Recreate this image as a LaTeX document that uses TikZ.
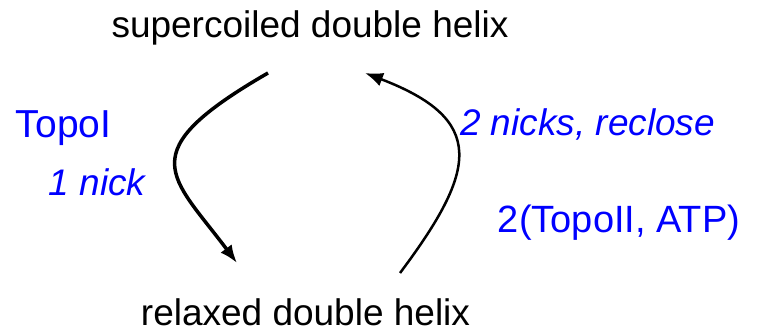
\documentclass[tikz,border=0pt]{standalone}
\usepackage{fontspec}
\setmainfont{Liberation Sans}
\usetikzlibrary{arrows.meta}
\definecolor{lblblue}{RGB}{0,0,255}
\tikzset{
  lbl/.style={inner sep=0pt, anchor=base, font=\fontsize{37}{44}\selectfont},
  bluelbl/.style={lbl, text=lblblue},
  bluelbli/.style={bluelbl, font=\fontsize{37}{44}\selectfont\itshape},
  curvearrow/.style={draw=black, -{Latex[length=18pt,width=14pt]}}
}
\begin{document}
\begin{tikzpicture}[x=1pt,y=1pt]
\useasboundingbox[fill=white] (0,0) rectangle (762,333);
\node[lbl] (super) at (310,296) {supercoiled double helix};
\node[lbl] (relax) at (305.5,8) {relaxed double helix};
\node[bluelbl, font=\fontsize{39}{46}\selectfont] (topoI) at (63.5,196) {TopoI};
\node[bluelbli] (nick1) at (97,138) {1 nick};
\node[bluelbli] (nick2) at (587.5,198) {2 nicks, reclose};
\node[bluelbl, font=\fontsize{38}{45}\selectfont] (topoII) at (619,101) {2(TopoII, ATP)};
\coordinate (ls) at (268,260);
\coordinate (le) at (237,70);
\coordinate (rs) at (400,60);
\coordinate (re) at (365,260);
\draw[curvearrow, line width=3.5pt] (ls) .. controls (129.4,180) and (171,158) .. (le);
\draw[curvearrow, line width=2.5pt] (rs) .. controls (478,164) and (486.4,213.5) .. (re);
\end{tikzpicture}
\end{document}
